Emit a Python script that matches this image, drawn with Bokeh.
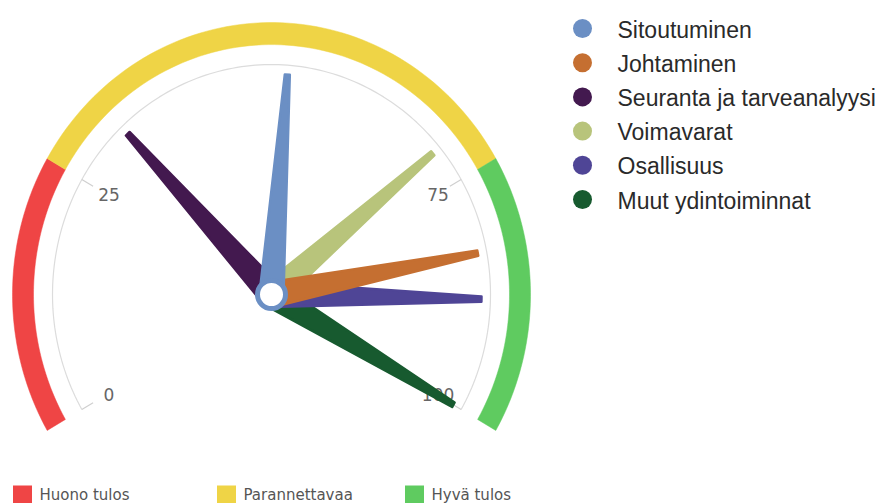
import numpy as np
from bokeh.plotting import figure
from bokeh.models import Range1d
from bokeh.embed import file_html
from bokeh.resources import INLINE
from bokeh.core.properties import value

# ---------------- data ----------------
series_names = ["Sitoutuminen", "Johtaminen", "Seuranta ja tarveanalyysi",
                "Voimavarat", "Osallisuus", "Muut ydintoiminnat"]
series_values = [51.8, 83.0, 32.0, 70.9, 88.0, 100.0]
series_colors = ["#6b8fc4", "#c56f31", "#43194f", "#b8c47b", "#4f4596", "#175a2f"]

band_names = ["Huono tulos", "Parannettavaa", "Hyvä tulos"]
band_from = [0, 25, 75]
band_to = [25, 75, 100]
band_colors = ["#ef4545", "#efd446", "#5fcb60"]

tick_values = [0, 25, 75, 100]
tick_labels = ["0", "25", "75", "100"]

# ---------------- layout ----------------
W, H = 881, 503
CX, CY = 271, 294          # gauge centre (page pixels)
SY = 1.05                  # vertical stretch of the reference
A0, A1 = -120.0, 120.0     # start / end angles (deg, from top, clockwise)
VMIN, VMAX = 0.0, 100.0


def ang(v):
    return np.deg2rad(A0 + (A1 - A0) * (np.asarray(v, float) - VMIN) / (VMAX - VMIN))


def pt(r, th):
    return CX + r * np.sin(th), CY - SY * r * np.cos(th)


p = figure(width=W, height=H, output_backend="svg", toolbar_location=None,
           x_range=Range1d(0, W), y_range=Range1d(H, 0),
           min_border=0, outline_line_color=None)
p.axis.visible = False
p.grid.visible = False
p.background_fill_color = "white"
p.border_fill_color = "white"

# ---- coloured bands ----
R_IN, R_OUT = 238, 259
bx, by = [], []
for f, t in zip(band_from, band_to):
    th = np.linspace(ang(f), ang(t), 80)
    xo, yo = pt(R_OUT, th)
    xi, yi = pt(R_IN, th[::-1])
    bx.append(list(np.concatenate([xo, xi])))
    by.append(list(np.concatenate([yo, yi])))
p.patches(bx, by, fill_color=band_colors, line_color=band_colors, line_width=0.5)

# ---- inner grey arc + ticks ----
R_AX = 219
th = np.linspace(ang(VMIN), ang(VMAX), 200)
ax_, ay_ = pt(R_AX, th)
p.line(ax_, ay_, line_color="#dcdcdc", line_width=1.2)

tth = ang(tick_values)
x0, y0 = pt(R_AX, tth)
x1, y1 = pt(R_AX - 13, tth)
p.segment(x0, y0, x1, y1, line_color="#cfcfcf", line_width=1.2)

lx, ly = pt(190, tth)
p.text(lx + 2, ly, text=tick_labels, text_align="center", text_baseline="middle",
       text_font=value("DejaVu Sans"), text_font_size="17px", text_color="#666666")

# ---- needles (drawn last series first) ----
L, BW, TW = 210, 24, 5
nx, ny, ncol = [], [], []
for v, c in list(zip(series_values, series_colors))[::-1]:
    t = float(ang(v))
    ux, uy = np.sin(t), -np.cos(t)        # unit direction (unstretched, y down)
    px_, py_ = -uy, ux                    # perpendicular
    xs = [CX + px_ * BW / 2, CX + ux * L + px_ * TW / 2,
          CX + ux * L - px_ * TW / 2, CX - px_ * BW / 2]
    ys = [CY + SY * py_ * BW / 2, CY + SY * (uy * L + py_ * TW / 2),
          CY + SY * (uy * L - py_ * TW / 2), CY - SY * py_ * BW / 2]
    nx.append(xs)
    ny.append(ys)
    ncol.append(c)
p.patches(nx, ny, fill_color=ncol, line_color=ncol, line_width=2.5, line_join="round")

# pivot
p.scatter([CX], [CY], marker="circle", size=28, fill_color="white",
          line_color=series_colors[0], line_width=5)

# ---- series legend (top right) ----
rows = 28 + 34.2 * np.arange(len(series_names))
p.scatter(np.full(len(rows), 582.0), rows, marker="circle", size=19,
          fill_color=series_colors, line_color=None)
p.text(np.full(len(rows), 617.0), rows + 1, text=series_names,
       text_align="left", text_baseline="middle",
       text_font=value("Liberation Sans"), text_font_size="23px", text_color="#2a2a2a")

# ---- band legend (bottom) ----
lgx = np.array([22.0, 226.0, 414.0])
p.rect(lgx, np.full(3, 494.0), width=19, height=18, fill_color=band_colors, line_color=None)
p.text(lgx + 17, np.full(3, 494.0), text=band_names, text_align="left",
       text_baseline="middle", text_font=value("DejaVu Sans"), text_font_size="15px",
       text_color="#555555")

open("out.html", "w").write(file_html(p, INLINE))
